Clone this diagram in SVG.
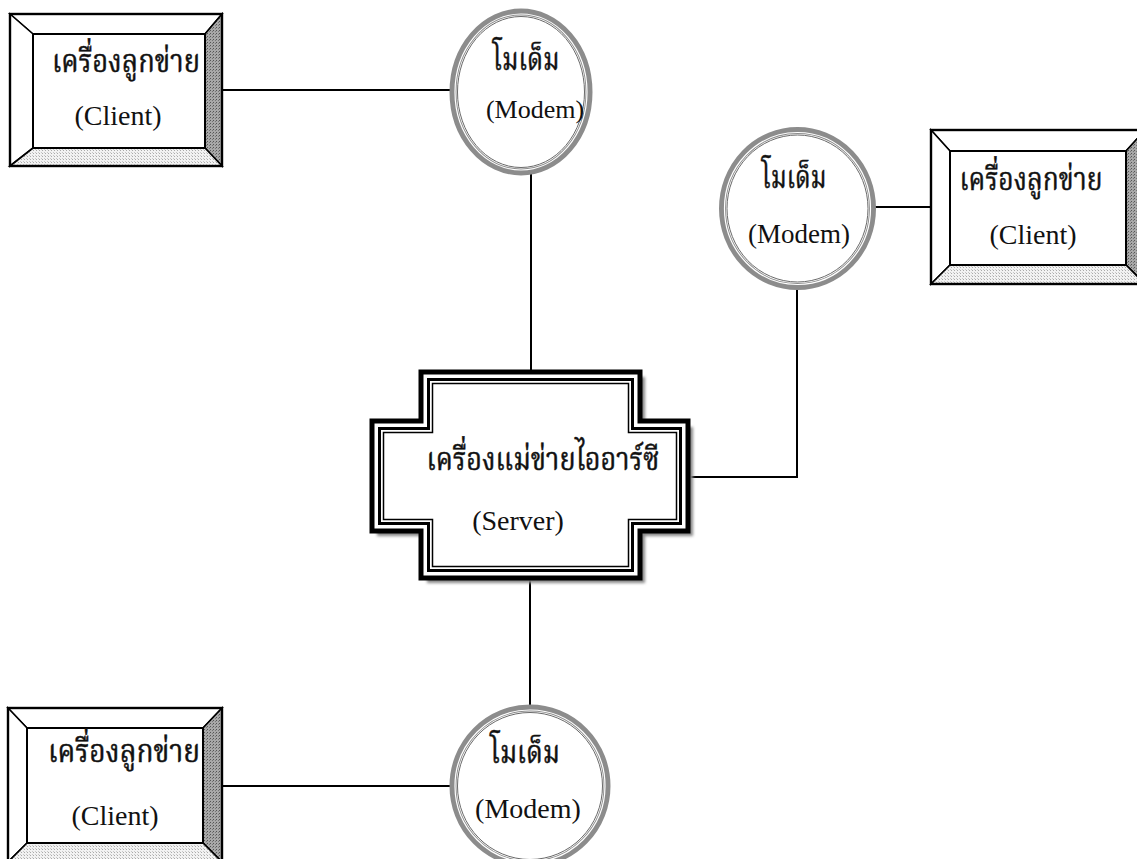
<svg xmlns="http://www.w3.org/2000/svg" width="1137" height="859" viewBox="0 0 1137 859">
<defs>
<pattern id="darkDots" width="3" height="3" patternUnits="userSpaceOnUse">
<rect width="3" height="3" fill="#a8a8a8"/>
<rect x="0" y="0" width="1" height="1" fill="#555"/>
<rect x="2" y="1" width="1" height="1" fill="#777"/>
</pattern>
<pattern id="lightDots" width="3" height="3" patternUnits="userSpaceOnUse">
<rect width="3" height="3" fill="#f2f2f2"/>
<rect x="0" y="0" width="1" height="1" fill="#aaa"/>
<rect x="2" y="2" width="1" height="1" fill="#c8c8c8"/>
</pattern>
<filter id="blur" x="-10%" y="-10%" width="120%" height="120%"><feGaussianBlur stdDeviation="1.5"/></filter>
</defs>
<style>
.line{stroke:#000;stroke-width:2;fill:none}
.bev{stroke:#000;stroke-width:1.6;stroke-linejoin:miter}
.th{font-family:"Noto Serif Thai","Noto Sans Thai","Liberation Serif",serif;fill:#111;stroke:#111;stroke-width:0.5;text-anchor:middle}
.en{font-family:"Liberation Serif","Times New Roman",serif;fill:#111;text-anchor:middle}
.ringA{fill:#fff;stroke:#8c8c8c;stroke-width:7}
.ringB{fill:none;stroke:#fff;stroke-width:1.2}
.ringC{fill:none;stroke:#6a6a6a;stroke-width:1}
</style>
<rect width="1137" height="859" fill="#fff"/>

<g id="connectors">
<line class="line" x1="222" y1="90" x2="452" y2="90"/>
<line class="line" x1="531" y1="172" x2="531" y2="372"/>
<line class="line" x1="873" y1="207" x2="931" y2="207"/>
<polyline class="line" points="797,287 797,477 688,477"/>
<line class="line" x1="530" y1="578" x2="530" y2="708"/>
<line class="line" x1="222" y1="786" x2="452" y2="786"/>
</g>

<g id="client-top-left">
<polygon points="10,14 222,14 205,34 33,34" fill="#fff" class="bev"/>
<polygon points="10,14 33,34 33,148 10,166" fill="#fff" class="bev"/>
<polygon points="222,14 222,166 205,148 205,34" fill="url(#darkDots)" class="bev"/>
<polygon points="10,166 33,148 205,148 222,166" fill="url(#lightDots)" class="bev"/>
<rect x="10" y="14" width="212" height="152" fill="none" stroke="#000" stroke-width="2.4"/>
<rect x="33" y="34" width="172" height="114" fill="#fff" stroke="#000" stroke-width="2"/>
<text class="th" x="126" y="72" font-size="32" textLength="148" lengthAdjust="spacingAndGlyphs">เครื่องลูกข่าย</text>
<text class="en" x="118" y="125" font-size="28">(Client)</text>
</g>

<g id="client-right">
<polygon points="931,130 1145,130 1126,151 950,151" fill="#fff" class="bev"/>
<polygon points="931,130 950,151 950,265 931,284" fill="#fff" class="bev"/>
<polygon points="1145,130 1145,284 1126,265 1126,151" fill="url(#darkDots)" class="bev"/>
<polygon points="931,284 950,265 1126,265 1145,284" fill="url(#lightDots)" class="bev"/>
<rect x="931" y="130" width="214" height="154" fill="none" stroke="#000" stroke-width="2.4"/>
<rect x="950" y="151" width="176" height="114" fill="#fff" stroke="#000" stroke-width="2"/>
<text class="th" x="1031" y="190" font-size="32" textLength="143" lengthAdjust="spacingAndGlyphs">เครื่องลูกข่าย</text>
<text class="en" x="1033" y="244" font-size="28">(Client)</text>
</g>

<g id="client-bottom-left">
<polygon points="8,708 222,708 203,728 27,728" fill="#fff" class="bev"/>
<polygon points="8,708 27,728 27,843 8,862" fill="#fff" class="bev"/>
<polygon points="222,708 222,862 203,843 203,728" fill="url(#darkDots)" class="bev"/>
<polygon points="8,862 27,843 203,843 222,862" fill="url(#lightDots)" class="bev"/>
<rect x="8" y="708" width="214" height="154" fill="none" stroke="#000" stroke-width="2.4"/>
<rect x="27" y="728" width="176" height="115" fill="#fff" stroke="#000" stroke-width="2"/>
<text class="th" x="124" y="762" font-size="32" textLength="152" lengthAdjust="spacingAndGlyphs">เครื่องลูกข่าย</text>
<text class="en" x="115" y="825" font-size="28">(Client)</text>
</g>

<g id="modem-top">
<ellipse class="ringA" cx="521" cy="92" rx="68" ry="80"/>
<ellipse class="ringB" cx="521" cy="92" rx="66" ry="78"/>
<ellipse class="ringC" cx="521" cy="92" rx="63.5" ry="75.5"/>
<text class="th" x="526" y="70" font-size="32" textLength="67" lengthAdjust="spacingAndGlyphs">โมเด็ม</text>
<text class="en" x="535" y="118" font-size="26">(Modem)</text>
</g>

<g id="modem-right">
<ellipse class="ringA" cx="797.5" cy="208.5" rx="75" ry="78"/>
<ellipse class="ringB" cx="797.5" cy="208.5" rx="73" ry="76"/>
<ellipse class="ringC" cx="797.5" cy="208.5" rx="70.5" ry="73.5"/>
<text class="th" x="794" y="188" font-size="32" textLength="65" lengthAdjust="spacingAndGlyphs">โมเด็ม</text>
<text class="en" x="799" y="243" font-size="27">(Modem)</text>
</g>

<g id="modem-bottom">
<ellipse class="ringA" cx="530" cy="786" rx="77" ry="78"/>
<ellipse class="ringB" cx="530" cy="786" rx="75" ry="76"/>
<ellipse class="ringC" cx="530" cy="786" rx="72.5" ry="73.5"/>
<text class="th" x="525" y="763" font-size="32" textLength="70" lengthAdjust="spacingAndGlyphs">โมเด็ม</text>
<text class="en" x="528" y="818" font-size="28">(Modem)</text>
</g>

<g id="server">
<polygon points="427,377 645,377 645,427 693,427 693,536 645,536 645,583 427,583 427,536 377,536 377,427 427,427" fill="#888" filter="url(#blur)"/>
<polygon points="421,372 640,372 640,421 688,421 688,531 640,531 640,578 421,578 421,531 372,531 372,421 421,421" fill="#fff" stroke="#000" stroke-width="5" stroke-linejoin="miter"/>
<polygon points="428.5,379.5 632.5,379.5 632.5,428.5 680.5,428.5 680.5,523.5 632.5,523.5 632.5,570.5 428.5,570.5 428.5,523.5 379.5,523.5 379.5,428.5 428.5,428.5" fill="none" stroke="#000" stroke-width="3"/>
<polygon points="432.5,383.5 628.5,383.5 628.5,432.5 676.5,432.5 676.5,519.5 628.5,519.5 628.5,566.5 432.5,566.5 432.5,519.5 383.5,519.5 383.5,432.5 432.5,432.5" fill="none" stroke="#000" stroke-width="1.5"/>
<text class="th" x="543" y="470" font-size="32" textLength="233" lengthAdjust="spacingAndGlyphs">เครื่องแม่ข่ายไออาร์ซี</text>
<text class="en" x="518" y="530" font-size="28">(Server)</text>
</g>
</svg>
